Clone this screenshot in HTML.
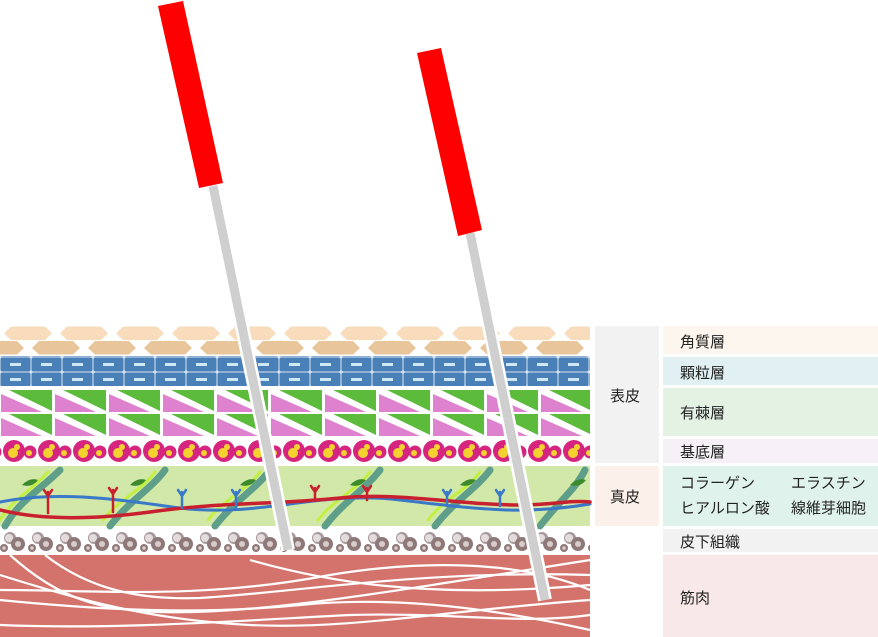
<!DOCTYPE html>
<html><head><meta charset="utf-8"><style>
body{margin:0;width:878px;height:637px;background:#fff;overflow:hidden;font-family:"Liberation Sans","Noto Sans CJK JP",sans-serif}
svg{position:absolute;left:0;top:0}
.t{font-size:15px;fill:#222;font-family:"Liberation Sans","Noto Sans CJK JP",sans-serif}
</style></head><body>
<svg width="878" height="637" viewBox="0 0 878 637">
<defs>
<pattern id="hex" width="56" height="29" patternUnits="userSpaceOnUse" y="326">
<rect width="56" height="29" fill="#fff"/>
<polygon points="11,0.5 45,0.5 52,7.5 45,14 11,14 4,7.5" fill="#f9dcbc"/>
<polygon points="-17,15 17,15 24,22 17,28.5 -17,28.5 -24,22" fill="#e8c59a"/>
<polygon points="39,15 73,15 80,22 73,28.5 39,28.5 32,22" fill="#e8c59a"/>
</pattern>
<pattern id="blue" width="31" height="15" patternUnits="userSpaceOnUse" y="357">
<rect width="31" height="15" fill="#d8e4f0"/>
<rect x="0.5" y="0.5" width="30" height="14" rx="2" fill="#4a80b8"/>
<rect x="10" y="6" width="11" height="3" fill="#cfe8f4"/>
</pattern>
<pattern id="tri" width="54" height="24" patternUnits="userSpaceOnUse" y="389">
<polygon points="9,1 52,1 52,22" fill="#5cbb3a"/>
<polygon points="1,5 1,23 42,23" fill="#de82d0"/>
</pattern>
<pattern id="bas" width="35" height="26" patternUnits="userSpaceOnUse" x="2" y="438">
<circle cx="12" cy="13" r="11" fill="#d6257e"/>
<circle cx="11" cy="15" r="5" fill="#f5d130"/><circle cx="15" cy="9" r="3" fill="#f5d130"/>
<circle cx="28" cy="14" r="6.5" fill="#d6257e"/><circle cx="27" cy="15" r="3" fill="#f5d130"/>
</pattern>
<pattern id="sub" width="28" height="24" patternUnits="userSpaceOnUse" x="0" y="530">
<circle cx="10" cy="8" r="6" fill="#a89a9a"/><circle cx="9" cy="8" r="4" fill="#e4dcdc"/>
<circle cx="18" cy="14" r="7" fill="#8f7878"/><circle cx="18" cy="14" r="3" fill="#d8cccc"/>
<circle cx="4" cy="18" r="4" fill="#8f7878"/><circle cx="4" cy="18" r="1.8" fill="#d8cccc"/>
</pattern>
</defs>
<rect x="0" y="326" width="590" height="29" fill="url(#hex)"/>
<rect x="0" y="356" width="590" height="30" fill="url(#blue)"/>
<rect x="0" y="388" width="590" height="48" fill="url(#tri)"/>
<rect x="0" y="438" width="590" height="26" fill="url(#bas)"/>
<rect x="0" y="466" width="590" height="60" fill="#d2e8a8"/>
<g fill="none" stroke-linecap="round">
<path d="M5 526 C20 500 40 490 60 470 M110 526 C130 500 150 490 165 470 M215 526 C235 500 255 490 270 470 M325 526 C345 500 365 490 380 470 M435 526 C455 500 475 490 490 470 M540 526 C560 500 575 490 585 470" stroke="#5f9e88" stroke-width="7"/>
<path d="M0 520 C14 498 30 492 48 472 M103 520 C120 498 140 492 155 472 M208 520 C225 498 245 492 260 472 M318 520 C335 498 355 492 370 472 M428 520 C445 498 465 492 480 472" stroke="#c2f040" stroke-width="3"/>
<path d="M0 502 C60 490 120 500 180 508 C260 518 320 490 400 500 C470 508 520 516 590 504" stroke="#3a78c8" stroke-width="3"/>
<path d="M0 510 C40 520 90 520 150 512 C220 502 270 505 340 498 C400 492 460 505 520 505 C550 505 570 500 590 502" stroke="#c8202e" stroke-width="3.5"/>
<path d="M48 513 V492 M44 490 L48 496 L52 490 M113 512 V490 M109 488 L113 494 L117 488 M315 500 V488 M311 486 L315 492 L319 486 M367 500 V488 M363 486 L367 492 L371 486" stroke="#c8202e" stroke-width="2.5"/>
<path d="M182 508 V492 M178 490 L182 496 L186 490 M236 508 V492 M232 490 L236 496 L240 490 M447 505 V492 M443 490 L447 496 L451 490 M500 506 V492 M496 490 L500 496 L504 490" stroke="#3a78c8" stroke-width="2.5"/>
</g>
<path d="M22 485 q8 -8 16 -5 q-6 8 -16 5z M130 485 q8 -8 16 -5 q-6 8 -16 5z M240 485 q8 -8 16 -5 q-6 8 -16 5z M350 485 q8 -8 16 -5 q-6 8 -16 5z M460 485 q8 -8 16 -5 q-6 8 -16 5z M570 485 q8 -8 16 -5 q-6 8 -16 5z" fill="#3d8a2e"/>
<rect x="0" y="530" width="590" height="23" fill="url(#sub)"/>
<rect x="0" y="555" width="590" height="82" fill="#d4736c"/>
<g fill="none" stroke="#fff" stroke-width="2.2">
<path d="M10 555 C60 600 100 610 160 612 C260 615 400 590 590 560"/>
<path d="M45 555 C90 590 140 600 200 598 C300 592 420 570 590 575"/>
<path d="M0 575 C80 600 150 620 250 625 C350 630 450 610 590 600"/>
<path d="M0 600 C100 610 200 615 300 605 C400 595 500 610 590 630"/>
<path d="M0 625 C120 630 250 620 350 615 C450 612 520 625 590 615"/>
<path d="M0 590 C100 590 200 600 330 575 C420 560 520 560 590 590"/>
<path d="M250 560 C320 580 420 600 590 585"/>
</g>
<line x1="213" y1="186" x2="288" y2="550" stroke="#fff" stroke-width="14"/>
<line x1="213" y1="186" x2="288" y2="550" stroke="#cfcfcf" stroke-width="9"/>
<polygon points="158,6 183,1 223,183 199,188" fill="#ff0000"/>
<line x1="470" y1="233" x2="545" y2="600" stroke="#fff" stroke-width="14"/>
<line x1="470" y1="233" x2="545" y2="600" stroke="#cfcfcf" stroke-width="9"/>
<polygon points="417,53 441,48 482,230 458,236" fill="#ff0000"/>
<rect x="595" y="326" width="64" height="137" fill="#f2f2f2"/>
<rect x="595" y="466" width="64" height="60" fill="#fcf0ea"/>
<rect x="663" y="326" width="215" height="28" fill="#fdf6ee"/>
<rect x="663" y="357" width="215" height="28" fill="#e0f0f3"/>
<rect x="663" y="388" width="215" height="48" fill="#e4f2e4"/>
<rect x="663" y="439" width="215" height="24" fill="#f6f0f7"/>
<rect x="663" y="466" width="215" height="60" fill="#e0f2ec"/>
<rect x="663" y="529" width="215" height="23" fill="#f2f2f2"/>
<rect x="663" y="555" width="215" height="82" fill="#f8e8e8"/>
<text class="t" x="610" y="401">表皮</text>
<text class="t" x="610" y="502">真皮</text>
<text class="t" x="680" y="347">角質層</text>
<text class="t" x="680" y="378">顆粒層</text>
<text class="t" x="680" y="418">有棘層</text>
<text class="t" x="680" y="457">基底層</text>
<text class="t" x="680" y="488">コラーゲン</text>
<text class="t" x="791" y="488">エラスチン</text>
<text class="t" x="680" y="513">ヒアルロン酸</text>
<text class="t" x="791" y="513">線維芽細胞</text>
<text class="t" x="680" y="547">皮下組織</text>
<text class="t" x="680" y="603">筋肉</text>
</svg>
</body></html>
